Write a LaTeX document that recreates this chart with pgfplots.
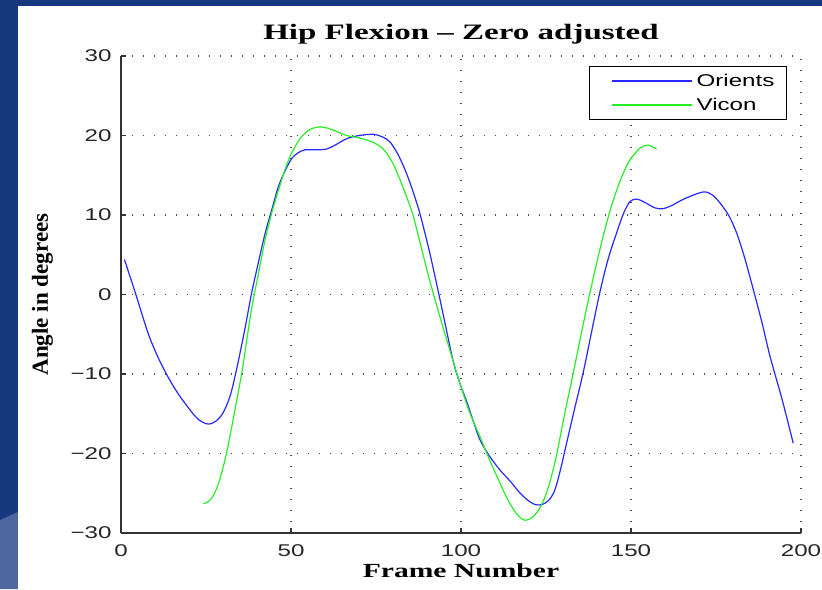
\documentclass[border=0pt]{standalone}
\usepackage{pgfplots}
\pgfplotsset{compat=1.18}
\usepackage{fontspec}
\setmainfont{Liberation Serif}
\newfontfamily\sans{Liberation Sans}
\usepackage{graphicx}
\definecolor{bgblue}{RGB}{23,56,126}
\definecolor{bglight}{RGB}{78,103,160}
\definecolor{orients}{RGB}{40,40,255}
\definecolor{vicon}{RGB}{40,240,40}
\newcommand\sx[1]{\scalebox{1.42}[1]{#1}}
\begin{document}
\begin{tikzpicture}[x=1pt,y=1pt]
\fill[bgblue] (0,0) rectangle (411,294.5);
\fill[bglight] (0,0) -- (0,34.5) -- (9,38.5) -- (9,0) -- cycle;
\fill[white] (9,0) rectangle (411,291.5);
\begin{axis}[
    at={(60.5pt,28pt)}, anchor=south west,
    scale only axis, width=340pt, height=238.5pt,
    xmin=0, xmax=200, ymin=-30, ymax=30,
    axis x line*=bottom, axis y line*=left,
    axis line style={draw=black!80, line width=0.7pt},
    tick style={draw=black!80, line width=0.7pt},
    major tick length=2.5pt, tick align=inside,
    xtick={0,50,100,150,200},
    xticklabels={\sx{0},\sx{50},\sx{100},\sx{150},\sx{200}},
    ytick={-30,-20,-10,0,10,20,30},
    yticklabels={\sx{−30},\sx{−20},\sx{−10},\sx{0},\sx{10},\sx{20},\sx{30}},
    ticklabel style={font=\sans\fontsize{8.5}{10}\selectfont, text=black!85},
    xticklabel style={yshift=-2.2pt},
    yticklabel style={xshift=-1.2pt},
    grid=major,
    major grid style={draw=black!70, line width=0.6pt, dash pattern=on 0.6pt off 4.9pt},
    title={\scalebox{1.5}[1]{Hip Flexion -- Zero adjusted}},
    title style={font=\bfseries\fontsize{11}{13}\selectfont, at={(0.5,1)}, anchor=base, yshift=2.25pt},
    xlabel={\scalebox{1.48}[1]{Frame Number}},
    xlabel style={font=\bfseries\fontsize{10}{12}\selectfont, at={(axis description cs:0.5,0)}, anchor=base, yshift=-22pt},
    ylabel={Angle in degrees},
    ylabel style={font=\bfseries\fontsize{11.5}{13}\selectfont, at={(axis description cs:-0.1074,0.5)}, anchor=base},
    legend style={at={(axis description cs:1,1)}, anchor=north east, xshift=-7pt, yshift=-5pt,
        draw=black, line width=0.6pt, fill=white,
        font=\sans\fontsize{8.5}{10}\selectfont,
        inner xsep=4pt, inner ysep=1.25pt,
        nodes={inner sep=2pt, text height=6.5pt, text depth=1.5pt},
        row sep=0pt},
    legend cell align=left,
]
\addplot[orients, line width=0.6pt, smooth,
  legend image code/.code={\path (-7pt,0pt); \draw[orients, line width=0.7pt] (0pt,0pt) -- (40pt,0pt);}]
  coordinates {
(1,4.4)(4,0.5)(8,-4.9)(11,-8)(14,-10.5)(17,-12.6)(21,-14.9)(23,-15.8)(25,-16.25)(26.5,-16.25)
(28,-15.9)(29,-15.5)(30,-14.9)(31,-14.0)(32,-12.9)(33,-11.3)(34.5,-8.4)(36.5,-4.2)(38.4,0.15)
(40.5,4.2)(42.4,7.7)(44.5,10.9)(46.3,13.6)(48.3,15.6)(50.2,17.1)(52,17.8)(54.1,18.2)(57.5,18.2)
(60.5,18.3)(63,18.8)(66.4,19.6)(70,20.0)(74.2,20.15)(77,19.8)(79.1,19.2)(81.5,17.6)(84,15.2)
(86,12.8)(87.9,10.2)(90.5,5.8)(92.8,1.4)(95,-3)(97.7,-8.4)(99.7,-11.2)(101.7,-13.5)(103.5,-15.8)
(105.6,-18.3)(108.5,-20.4)(111.5,-22.1)(114.5,-23.5)(117.4,-25.0)(120,-26.0)(122,-26.45)(124,-26.4)
(125.5,-26.0)(126.5,-25.5)(127.5,-24.7)(128.5,-23.3)(129.5,-21.6)(131,-18.8)(133.5,-14.2)(136,-9.7)
(138.5,-4.5)(140.9,0.4)(143.3,4.5)(145.8,7.8)(147.8,10.2)(149.7,11.7)(151.7,12.0)(154,11.6)
(157,10.9)(159.5,10.8)(162,11.2)(166,12.1)(171.3,12.9)(174,12.5)(176.2,11.5)(178.8,9.9)(181.1,7.7)
(183.5,4.5)(186,0.57)(188.5,-3.5)(190.9,-7.8)(194.5,-13.3)(197.7,-18.7)
};
\addlegendentry{\sx{Orients}}
\addplot[vicon, line width=0.6pt, smooth,
  legend image code/.code={\path (-7pt,0pt); \draw[vicon, line width=0.7pt] (0pt,0pt) -- (40pt,0pt);}]
  coordinates {
(24.2,-26.3)(25.5,-26.1)(27,-25.4)(28.5,-24.0)(30,-21.8)(31.5,-19.0)(33.3,-15)(35.5,-9.9)(37,-5.7)
(38.4,-1.8)(40.5,2.8)(42.4,6.9)(44.3,10.2)(46.3,13.1)(48.3,15.8)(50.2,17.8)(52.5,19.5)(55,20.6)
(57.1,21.0)(58.5,21.1)(61,20.9)(63.5,20.5)(66.4,20.0)(70,19.7)(73.2,19.3)(76,18.7)(78.1,17.8)
(80.2,16.3)(82.1,14.4)(84,12.3)(86,9.8)(88.5,5.6)(90.9,1.6)(93.8,-2.8)(95.8,-5.7)(97.7,-8.4)
(99.7,-11.2)(102.5,-14.8)(105.6,-17.9)(108.5,-20.9)(111.5,-23.75)(113.5,-25.6)(115.4,-27.0)(117,-27.9)
(118.8,-28.4)(120.8,-28.1)(122.5,-27.3)(124.3,-25.9)(126.2,-23.5)(128.1,-20.2)(130.5,-15)(133,-9.9)
(135,-5.7)(137,-1.6)(139.5,3.2)(141.9,7.5)(144.3,11.2)(146.8,14.3)(149.5,16.8)(152.6,18.4)(155,18.8)(157.5,18.3)
};
\addlegendentry{\sx{Vicon}}
\end{axis}
\pgfresetboundingbox
\useasboundingbox (0,0) rectangle (411,294.5);
\end{tikzpicture}
\end{document}
